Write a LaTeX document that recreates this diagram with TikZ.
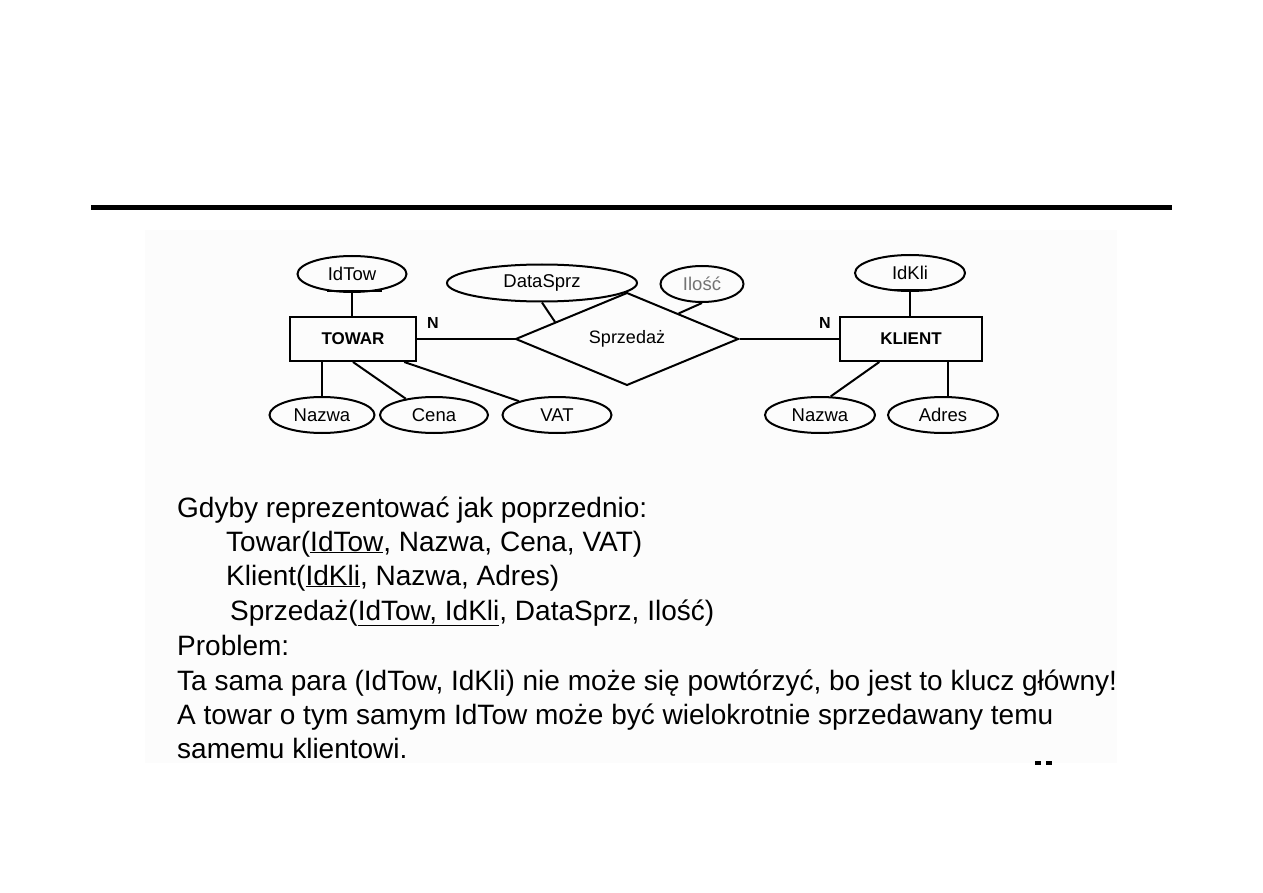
\documentclass[tikz,border=0pt]{standalone}
\usepackage{fontspec}
\setmainfont{Liberation Sans}
\usetikzlibrary{shapes.geometric,calc}
\begin{document}
\begin{tikzpicture}[x=1pt,y=-1pt,
  attr/.style={ellipse,draw,line width=2pt,inner sep=0pt,minimum width=109pt,minimum height=36pt,font=\fontsize{18.5}{20}\selectfont},
  ent/.style={rectangle,draw,line width=2pt,inner sep=0pt,minimum height=44pt,font=\bfseries\fontsize{17}{20}\selectfont},
  rel/.style={diamond,draw,line width=2pt,inner sep=0pt,minimum width=223pt,minimum height=70pt,font=\fontsize{18}{20}\selectfont},
  conn/.style={line width=2pt},
  card/.style={font=\bfseries\fontsize{16}{18}\selectfont,inner sep=0pt},
  body/.style={anchor=base west,inner sep=0pt,font=\fontsize{28}{32}\selectfont},
  keyline/.style={line width=2.2pt}
]
\useasboundingbox (0,0) rectangle (1263,893);
\fill[black!1] (145,230) rectangle (1117,763);
\draw[line width=5pt] (91,208) -- (1172,208);

% entities and relationship
\node[ent,minimum width=126pt] (towar) at (353,339) {TOWAR};
\node[ent,minimum width=142pt] (klient) at (911,339) {KLIENT};
\node[rel] (sprz) at (627,339) {Sprzedaż};

% attributes
\node[attr] (idtow) at (352,274) {IdTow};
\node[attr,minimum width=190pt,minimum height=37pt] (datasprz) at (542,283) {DataSprz};
\node[attr,minimum width=83pt] (ilosc) at (702,284) {\textcolor{black!55}{Ilość}};
\node[attr,minimum width=110pt] (idkli) at (910,273) {IdKli};
\node[attr,minimum width=105pt] (nazwa1) at (322,415) {Nazwa};
\node[attr,minimum width=108pt] (cena) at (434,415) {Cena};
\node[attr] (vat) at (557,415) {VAT};
\node[attr,minimum width=110pt] (nazwa2) at (820,415) {Nazwa};
\node[attr,minimum width=110pt] (adres) at (943,415) {Adres};

% cardinalities
\node[card] (n1) at (433,323) {N};
\node[card] (n2) at (825,323) {N};

% key underlines
\draw[keyline] ($(idtow.south)+(-25,-2)$) -- ++(55,0);
\draw[keyline] ($(idkli.south)+(-20,-2)$) -- ++(42,0);

% connectors
\draw[conn] (towar.east) -- (sprz.west);
\draw[conn] (sprz.east) -- (klient.west);
\draw[conn] (idtow.south) -- (idtow.south |- towar.north);
\draw[conn] (idkli.south) -- (idkli.south |- klient.north);
\draw[conn] (nazwa1.north) -- (nazwa1.north |- towar.south);
\draw[conn] (towar.south) -- (cena.150);
\coordinate (tv) at ($(towar.south)!0.8!(towar.south east)$);
\draw[conn] (tv) -- (vat.160);
\coordinate (kn) at ($(klient.south west)!0.28!(klient.south east)$);
\draw[conn] (kn) -- (nazwa2.60);
\coordinate (ka) at ($(klient.south west)!0.76!(klient.south east)$);
\draw[conn] (ka) -- (ka |- adres.north);
\coordinate (sd) at ($(sprz.west)!0.36!(sprz.north)$);
\draw[conn] (datasprz.south) -- (sd);
\coordinate (si) at ($(sprz.north)!0.46!(sprz.east)$);
\draw[conn] (ilosc.south) -- (si);

% text
\node[body] (t1) at (177,517) {Gdyby reprezentować jak poprzednio:};
\node[body] (t2) at (226,551) {Towar(\underline{IdTow}, Nazwa, Cena, VAT)};
\node[body] (t3) at (226,585) {Klient(\underline{IdKli}, Nazwa, Adres)};
\node[body] (t4) at (230,620) {Sprzedaż(\underline{IdTow, IdKli}, DataSprz, Ilość)};
\node[body] (t5) at (177,655) {Problem:};
\node[body] (t6) at (177,690) {Ta sama para (IdTow, IdKli) nie może się powtórzyć, bo jest to klucz główny!};
\node[body] (t7) at (177,724) {A towar o tym samym IdTow może być wielokrotnie sprzedawany temu};
\node[body] (t8) at (177,758) {samemu klientowi.};

% scan mark
\fill (1035,761) rectangle (1041,765);
\fill (1046,761) rectangle (1052,765);
\end{tikzpicture}
\end{document}
